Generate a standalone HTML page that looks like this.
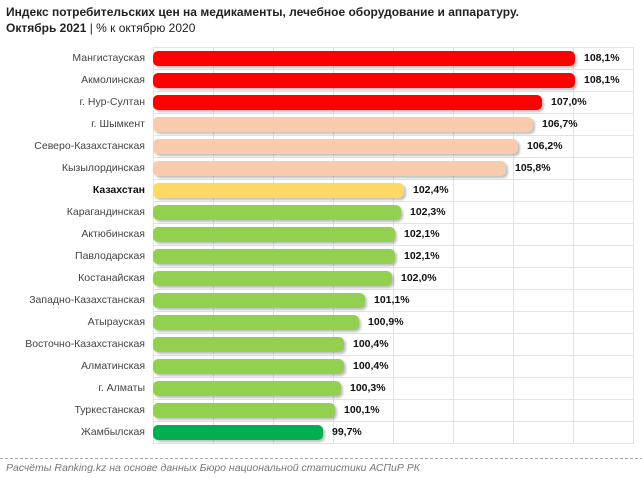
<!DOCTYPE html>
<html><head><meta charset="utf-8"><style>
body{margin:0;width:642px;height:478px;background:#fff;font-family:"Liberation Sans",sans-serif;position:relative;overflow:hidden}
.t{position:absolute;left:6px;font-size:12px;font-weight:bold;color:#222}
.lab{position:absolute;right:497px;font-size:10.5px;color:#444;text-align:right;white-space:nowrap;line-height:14px}
.bar{position:absolute;left:153px;height:15px;border-radius:5px;box-shadow:2px 2px 2px rgba(0,0,0,0.25)}
.v{position:absolute;font-size:10.5px;font-weight:bold;color:#111;line-height:14px}
</style></head><body>
<div class="t" style="top:5px">Индекс потребительских цен на медикаменты, лечебное оборудование и аппаратуру.</div>
<div class="t" style="top:21px">Октябрь 2021 <span style="font-weight:normal">| % к октябрю 2020</span></div>
<svg style="position:absolute;left:0;top:0" width="642" height="478">
<g stroke="#e3e3e3" stroke-width="1">
<line x1="153.5" y1="47" x2="153.5" y2="443"/><line x1="213.5" y1="47" x2="213.5" y2="443"/><line x1="273.5" y1="47" x2="273.5" y2="443"/><line x1="333.5" y1="47" x2="333.5" y2="443"/><line x1="393.5" y1="47" x2="393.5" y2="443"/><line x1="453.5" y1="47" x2="453.5" y2="443"/><line x1="513.5" y1="47" x2="513.5" y2="443"/><line x1="573.5" y1="47" x2="573.5" y2="443"/><line x1="633.5" y1="47" x2="633.5" y2="443"/>
</g>
<g id="h" stroke="#e3e3e3"></g>
<line x1="0" y1="458.5" x2="642" y2="458.5" stroke="#aaa" stroke-dasharray="3,2"/>
</svg>
<div id="c"></div>
<div style="position:absolute;left:6px;top:462px;font-size:10.5px;font-style:italic;color:#777">Расчёты Ranking.kz на основе данных Бюро национальной статистики АСПиР РК</div>
<script>
var d=[["Мангистауская",108.1,"#ff0000"],["Акмолинская",108.1,"#ff0000"],["г. Нур-Султан",107.0,"#ff0000"],["г. Шымкент",106.7,"#f8cbad"],["Северо-Казахстанская",106.2,"#f8cbad"],["Кызылординская",105.8,"#f8cbad"],["Казахстан",102.4,"#ffd966"],["Карагандинская",102.3,"#92d050"],["Актюбинская",102.1,"#92d050"],["Павлодарская",102.1,"#92d050"],["Костанайская",102.0,"#92d050"],["Западно-Казахстанская",101.1,"#92d050"],["Атырауская",100.9,"#92d050"],["Восточно-Казахстанская",100.4,"#92d050"],["Алматинская",100.4,"#92d050"],["г. Алматы",100.3,"#92d050"],["Туркестанская",100.1,"#92d050"],["Жамбылская",99.7,"#00b050"]];
var h="",g="";
d.forEach(function(r,i){var cy=58+i*22;var w=(r[1]-94)*30;
h+='<div class="lab" style="top:'+(cy-7)+'px;'+(i==6?'font-weight:bold;color:#111':'')+'">'+r[0]+'</div>';
h+='<div class="bar" style="top:'+(cy-7)+'px;width:'+(w-1)+'px;background:'+r[2]+'"></div>';
h+='<div class="v" style="top:'+(cy-7)+'px;left:'+(153+w+8)+'px">'+r[1].toFixed(1).replace(".",",")+'%</div>';
g+='<line x1="153" x2="634" y1="'+(cy+11.5)+'" y2="'+(cy+11.5)+'"/>';});
g='<line x1="153" x2="634" y1="47.5" y2="47.5"/>'+g;
document.getElementById("c").innerHTML=h;document.getElementById("h").innerHTML=g;
</script>
</body></html>
